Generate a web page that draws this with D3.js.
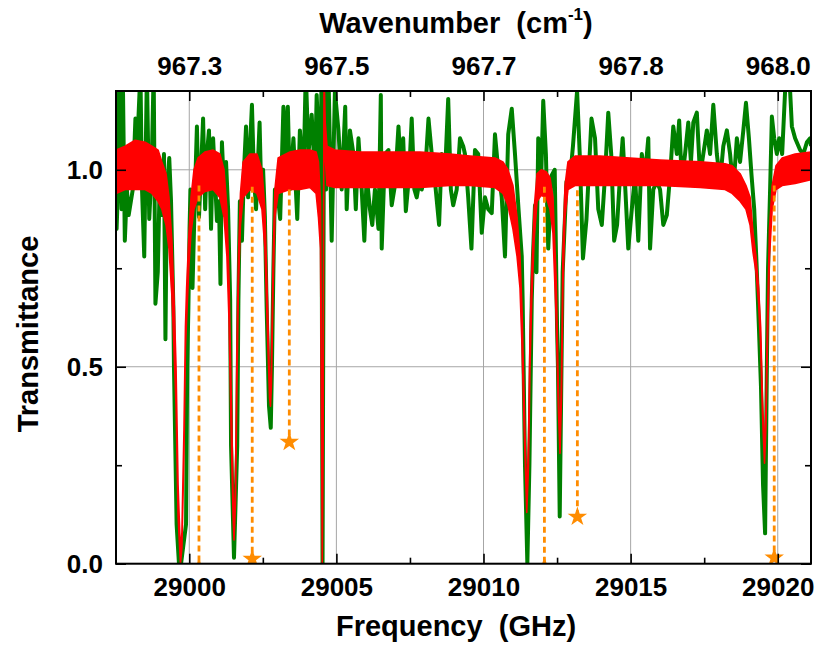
<!DOCTYPE html>
<html>
<head>
<meta charset="utf-8">
<script src="https://cdn.jsdelivr.net/npm/d3@7"></script>
<style>
body { margin: 0; background: #fff; }
svg text { font-family: "Liberation Sans", Arial, sans-serif; font-weight: bold; fill: #000; }
</style>
</head>
<body>
<div id="chart"></div>
<script>
// axes
var freqRange = [28997.51, 29021.13];
var transRange = [0, 1.2];
var freqTicks = [29000, 29005, 29010, 29015, 29020];
var freqMinor = [29002.5, 29007.5, 29012.5, 29017.5];
var transTicks = [0, 0.5, 1.0];
var transMinor = [0.25, 0.75];
var GHZ_PER_CM = 29.9792458;

// green spectrum: [frequency GHz, transmittance]
var green = [
 [28997.51,1.25],[28997.53,0.85],[28997.60,1.00],[28997.66,1.25],[28997.70,0.90],[28997.74,1.25],[28997.81,0.82],[28997.88,0.95],[28997.94,0.885],[28998.08,0.95],
 [28998.17,1.13],[28998.22,1.04],[28998.34,1.25],[28998.39,0.96],[28998.47,0.78],[28998.56,1.25],[28998.64,0.875],[28998.72,1.00],[28998.79,1.25],[28998.85,0.66],
 [28998.93,0.74],[28999.00,0.985],[28999.07,0.885],[28999.14,1.04],[28999.19,0.57],[28999.24,0.95],[28999.32,1.03],[28999.38,0.92],[28999.43,0.75],[28999.46,0.65],
 [28999.48,0.50],[28999.57,0.10],[28999.65,0.00],[28999.72,0.00],[28999.89,0.10],[28999.93,0.50],[28999.97,0.65],[29000.01,0.85],[29000.04,0.95],[29000.11,0.70],
 [29000.20,0.96],[29000.26,1.11],[29000.33,0.88],[29000.40,1.00],[29000.47,1.13],[29000.54,0.90],[29000.60,1.04],[29000.67,1.10],[29000.74,0.85],[29000.81,1.08],
 [29000.88,0.97],[29000.94,0.87],[29001.01,0.92],[29001.06,0.71],[29001.11,1.07],[29001.18,0.95],[29001.25,1.02],[29001.32,0.90],[29001.39,0.67],[29001.42,0.30],
 [29001.52,0.015],[29001.63,0.30],[29001.67,0.67],[29001.72,0.92],[29001.79,0.82],[29001.86,1.00],[29001.93,1.11],[29002.00,0.93],[29002.06,1.05],[29002.13,1.165],
 [29002.20,0.98],[29002.27,0.90],[29002.34,1.03],[29002.39,1.12],[29002.44,0.96],[29002.51,1.00],[29002.57,0.88],[29002.63,0.65],[29002.71,0.40],[29002.77,0.345],
 [29002.81,0.50],[29002.86,0.75],[29002.91,0.95],[29002.99,0.95],[29003.09,0.875],[29003.20,1.16],[29003.25,1.04],[29003.35,1.16],[29003.42,0.95],[29003.54,1.08],
 [29003.67,0.875],[29003.76,1.10],[29003.88,0.97],[29003.96,1.25],[29004.05,1.04],[29004.16,1.14],[29004.27,0.985],[29004.33,1.19],[29004.39,1.08],[29004.44,0.90],
 [29004.49,1.20],[29004.53,0.00],[29004.58,1.25],[29004.65,0.95],[29004.73,1.25],[29004.84,0.82],[29004.95,1.20],[29005.07,1.10],[29005.18,0.95],[29005.30,1.16],
 [29005.35,0.90],[29005.46,1.10],[29005.58,1.04],[29005.66,0.90],[29005.75,1.08],[29005.86,0.95],[29005.95,0.82],[29006.03,0.985],[29006.14,0.90],[29006.22,0.86],
 [29006.31,0.95],[29006.43,0.85],[29006.51,1.19],[29006.54,0.80],[29006.65,1.04],[29006.77,1.05],[29006.88,0.91],[29006.99,0.96],[29007.11,1.11],[29007.20,0.985],
 [29007.27,1.08],[29007.36,0.895],[29007.47,0.985],[29007.56,1.13],[29007.65,0.95],[29007.73,0.93],[29007.82,0.97],[29007.90,0.95],[29008.01,0.985],[29008.13,1.13],
 [29008.24,1.04],[29008.35,0.97],[29008.49,0.86],[29008.58,1.04],[29008.69,0.985],[29008.80,1.18],[29008.89,0.95],[29008.97,0.91],[29009.09,0.95],[29009.20,1.08],
 [29009.31,1.06],[29009.37,1.04],[29009.48,0.93],[29009.59,0.80],[29009.71,1.05],[29009.82,1.04],[29009.94,0.84],[29010.05,0.93],[29010.16,0.90],[29010.28,0.89],
 [29010.39,1.09],[29010.50,1.00],[29010.62,0.93],[29010.73,0.78],[29010.84,1.09],[29010.96,1.155],[29011.07,1.04],[29011.19,0.90],[29011.30,0.78],[29011.33,0.67],
 [29011.41,0.25],[29011.49,0.00],[29011.56,0.25],[29011.64,0.67],[29011.68,0.78],[29011.75,0.91],[29011.80,0.74],[29011.86,1.08],[29011.95,0.95],[29012.03,1.175],
 [29012.12,1.04],[29012.20,0.80],[29012.31,0.985],[29012.42,1.00],[29012.50,0.60],[29012.53,0.50],[29012.59,0.12],[29012.65,0.50],[29012.69,0.74],[29012.82,0.97],
 [29012.93,0.97],[29013.04,1.06],[29013.18,1.20],[29013.27,1.04],[29013.38,0.775],[29013.50,0.875],[29013.67,1.13],[29013.79,1.08],[29013.90,0.90],[29014.02,0.86],
 [29014.13,0.985],[29014.24,1.145],[29014.34,1.04],[29014.44,0.82],[29014.54,0.86],[29014.64,0.985],[29014.73,1.08],[29014.82,0.95],[29014.92,0.80],[29015.04,0.90],
 [29015.15,0.985],[29015.26,0.82],[29015.38,1.04],[29015.49,0.985],[29015.60,1.08],[29015.66,0.80],[29015.77,0.95],[29015.89,0.97],[29016.00,0.95],[29016.11,0.86],
 [29016.23,0.885],[29016.34,0.985],[29016.45,1.11],[29016.57,1.04],[29016.65,1.125],[29016.74,0.97],[29016.85,1.04],[29016.96,1.12],[29017.05,1.02],[29017.13,1.12],
 [29017.25,1.145],[29017.36,0.985],[29017.47,1.04],[29017.59,1.10],[29017.70,1.04],[29017.81,1.165],[29017.93,1.04],[29018.04,0.97],[29018.15,1.06],[29018.27,1.10],
 [29018.38,1.04],[29018.49,0.95],[29018.61,1.08],[29018.72,1.02],[29018.83,1.10],[29018.92,1.17],[29019.02,1.08],[29019.11,0.985],[29019.20,0.90],[29019.28,0.76],
 [29019.36,0.60],[29019.43,0.45],[29019.50,0.20],[29019.57,0.077],[29019.63,0.50],[29019.67,0.75],[29019.74,0.95],[29019.80,1.135],[29019.88,1.08],[29019.97,1.04],
 [29020.05,1.08],[29020.15,1.04],[29020.25,1.20],[29020.33,1.25],[29020.42,1.20],[29020.48,1.11],[29020.59,1.08],[29020.76,1.05],[29020.87,1.04],[29020.99,1.07],
 [29021.10,1.08],[29021.13,1.06]
];

// red spectrum, noise band: [frequency GHz, low, high]
var red = [
 [28997.51,0.94,1.05],[28997.82,0.95,1.06],[28998.16,0.95,1.075],[28998.50,0.95,1.07],[28998.73,0.94,1.06],[28998.94,0.92,1.05],[28999.07,0.90,1.02],[28999.21,0.86,0.99],
 [28999.31,0.80,0.93],[28999.41,0.68,0.82],[28999.48,0.55,0.68],[28999.55,0.40,0.50],[28999.62,0.12,0.20],[28999.70,0.00,0.03],[28999.75,0.04,0.08],[28999.82,0.28,0.34],
 [28999.87,0.55,0.60],[28999.91,0.62,0.70],[28999.99,0.76,0.84],[29000.06,0.84,0.93],[29000.16,0.90,1.00],[29000.30,0.93,1.03],[29000.53,0.945,1.045],[29000.81,0.95,1.05],
 [29001.04,0.93,1.04],[29001.18,0.88,1.00],[29001.28,0.78,0.90],[29001.35,0.62,0.72],[29001.42,0.35,0.45],[29001.49,0.12,0.18],[29001.52,0.06,0.08],[29001.57,0.15,0.20],
 [29001.62,0.45,0.55],[29001.67,0.70,0.78],[29001.74,0.86,0.94],[29001.83,0.93,1.02],[29002.06,0.95,1.04],[29002.30,0.94,1.04],[29002.47,0.90,1.00],[29002.57,0.80,0.90],
 [29002.66,0.58,0.66],[29002.73,0.42,0.46],[29002.76,0.40,0.42],[29002.79,0.45,0.50],[29002.85,0.70,0.78],[29002.91,0.88,0.95],[29003.02,0.94,1.03],[29003.42,0.95,1.045],
 [29003.76,0.95,1.05],[29004.10,0.955,1.05],[29004.31,0.94,1.045],[29004.39,0.88,1.02],[29004.46,0.80,0.92],[29004.49,0.40,0.60],[29004.52,0.00,0.05],[29004.55,0.30,0.50],
 [29004.58,1.25,1.25],[29004.62,1.03,1.12],[29004.68,0.96,1.06],[29004.95,0.955,1.05],[29005.80,0.955,1.045],[29006.82,0.955,1.045],[29007.84,0.955,1.045],[29008.86,0.96,1.04],
 [29009.54,0.96,1.035],[29010.39,0.955,1.03],[29010.66,0.94,1.02],[29010.83,0.91,1.00],[29011.00,0.85,0.96],[29011.14,0.78,0.88],[29011.24,0.70,0.78],[29011.31,0.55,0.64],
 [29011.38,0.35,0.42],[29011.47,0.13,0.15],[29011.53,0.25,0.32],[29011.58,0.50,0.58],[29011.64,0.67,0.74],[29011.72,0.82,0.90],[29011.82,0.92,0.99],[29011.96,0.935,1.00],
 [29012.13,0.93,0.995],[29012.26,0.90,0.98],[29012.36,0.84,0.93],[29012.47,0.62,0.72],[29012.54,0.40,0.46],[29012.60,0.28,0.30],[29012.65,0.42,0.48],[29012.70,0.70,0.80],
 [29012.77,0.88,0.96],[29012.87,0.95,1.02],[29013.11,0.96,1.035],[29013.96,0.96,1.035],[29014.98,0.96,1.03],[29016.00,0.96,1.025],[29017.36,0.955,1.02],[29018.21,0.95,1.015],
 [29018.45,0.94,1.01],[29018.72,0.92,0.99],[29018.92,0.90,0.96],[29019.06,0.86,0.93],[29019.16,0.79,0.84],[29019.26,0.74,0.78],[29019.35,0.66,0.70],[29019.42,0.55,0.60],
 [29019.48,0.38,0.42],[29019.55,0.255,0.28],[29019.60,0.35,0.40],[29019.65,0.55,0.62],[29019.72,0.78,0.85],[29019.81,0.90,0.96],[29019.94,0.95,1.01],[29020.15,0.96,1.03],
 [29020.59,0.965,1.04],[29021.13,0.975,1.045]
];

// predicted lines (stars) and the top of their dashed drop lines
var starFreq = [29000.33, 29002.14, 29003.40, 29012.07, 29013.19, 29019.88];
var starTrans = [-0.01, 0.012, 0.309, -0.008, 0.119, 0.015];
var dashTop = [0.96, 0.957, 0.95, 0.957, 0.948, 0.96];

var W = 830, H = 646;
var margin = {top: 91, right: 19, bottom: 82.3, left: 116};
var plotW = W - margin.left - margin.right;
var plotH = H - margin.top - margin.bottom;

var x = d3.scaleLinear().domain(freqRange).range([0, plotW]);
var y = d3.scaleLinear().domain(transRange).range([plotH, 0]);

var svg = d3.select("#chart").append("svg")
  .attr("width", W)
  .attr("height", H);

svg.append("defs").append("clipPath")
  .attr("id", "plotclip")
  .append("rect")
  .attr("width", plotW)
  .attr("height", plotH);

var g = svg.append("g")
  .attr("transform", "translate(" + margin.left + "," + margin.top + ")");

// grid
g.selectAll(".vgrid").data(freqTicks).enter().append("line")
  .attr("class", "vgrid")
  .attr("x1", d => x(d)).attr("x2", d => x(d))
  .attr("y1", 0).attr("y2", plotH)
  .attr("stroke", "#a6a6a6").attr("stroke-width", 1);

g.selectAll(".hgrid").data(transTicks).enter().append("line")
  .attr("class", "hgrid")
  .attr("x1", 0).attr("x2", plotW)
  .attr("y1", d => y(d)).attr("y2", d => y(d))
  .attr("stroke", "#a6a6a6").attr("stroke-width", 1);

var plot = g.append("g").attr("clip-path", "url(#plotclip)");

var greenLine = d3.line()
  .x(d => x(d[0]))
  .y(d => y(d[1]));

plot.append("path")
  .datum(green)
  .attr("d", greenLine)
  .attr("fill", "none")
  .attr("stroke", "#008000")
  .attr("stroke-width", 4)
  .attr("stroke-linejoin", "round");

var redArea = d3.area()
  .x(d => x(d[0]))
  .y0(d => y(d[1]))
  .y1(d => y(d[2]));

plot.append("path")
  .datum(red)
  .attr("d", redArea)
  .attr("fill", "#ff0000")
  .attr("stroke", "#ff0000")
  .attr("stroke-width", 1.6)
  .attr("stroke-linejoin", "round");

// dashed drop lines + stars
plot.selectAll(".drop").data(starFreq).enter().append("line")
  .attr("class", "drop")
  .attr("x1", d => x(d)).attr("x2", d => x(d))
  .attr("y1", (d, i) => y(dashTop[i]))
  .attr("y2", (d, i) => y(starTrans[i]))
  .attr("stroke", "#ff8c00")
  .attr("stroke-width", 2.8)
  .attr("stroke-dasharray", "6,4");

plot.selectAll(".star").data(starFreq).enter().append("path")
  .attr("class", "star")
  .attr("d", d3.symbol(d3.symbolStar, 118))
  .attr("transform", (d, i) => "translate(" + x(d) + "," + y(starTrans[i]) + ")")
  .attr("fill", "#ff8c00");

// axes
function styleAxis(sel, size) {
  sel.select(".domain").remove();
  sel.selectAll("line").attr("stroke", "#000").attr("stroke-width", 1.6);
  sel.selectAll("text")
    .attr("font-family", "Liberation Sans, Arial, sans-serif")
    .attr("font-size", size + "px")
    .attr("font-weight", "bold")
    .attr("fill", "#000");
}

g.append("g").attr("transform", "translate(0," + plotH + ")")
  .call(d3.axisBottom(x).tickValues(freqTicks).tickSize(-10).tickPadding(14).tickFormat(d3.format("d")))
  .call(styleAxis, 26);
g.append("g").attr("transform", "translate(0," + plotH + ")")
  .call(d3.axisBottom(x).tickValues(freqMinor).tickSize(-6).tickFormat(""))
  .call(styleAxis, 26);

g.append("g")
  .call(d3.axisTop(x).tickValues(freqTicks).tickSize(-10).tickPadding(16)
    .tickFormat(d => (d / GHZ_PER_CM).toFixed(1)))
  .call(styleAxis, 26);
g.append("g")
  .call(d3.axisTop(x).tickValues(freqMinor).tickSize(-6).tickFormat(""))
  .call(styleAxis, 26);

g.append("g")
  .call(d3.axisLeft(y).tickValues(transTicks).tickSize(-10).tickPadding(13).tickFormat(d3.format(".1f")))
  .call(styleAxis, 26);
g.append("g")
  .call(d3.axisLeft(y).tickValues(transMinor).tickSize(-6).tickFormat(""))
  .call(styleAxis, 26);

g.append("g").attr("transform", "translate(" + plotW + ",0)")
  .call(d3.axisRight(y).tickValues(transTicks).tickSize(-10).tickFormat(""))
  .call(styleAxis, 26);
g.append("g").attr("transform", "translate(" + plotW + ",0)")
  .call(d3.axisRight(y).tickValues(transMinor).tickSize(-6).tickFormat(""))
  .call(styleAxis, 26);

// frame
g.append("rect")
  .attr("width", plotW)
  .attr("height", plotH)
  .attr("fill", "none")
  .attr("stroke", "#000")
  .attr("stroke-width", 2);

// titles
g.append("text")
  .attr("x", 340)
  .attr("y", plotH + 72)
  .attr("text-anchor", "middle")
  .attr("font-size", "29px")
  .style("white-space", "pre")
  .text("Frequency  (GHz)");

var topTitle = g.append("text")
  .attr("x", 340)
  .attr("y", -58)
  .attr("text-anchor", "middle")
  .attr("font-size", "29px")
  .style("white-space", "pre");
topTitle.append("tspan").text("Wavenumber  (cm");
topTitle.append("tspan").attr("font-size", "17px").attr("dy", -13).text("-1");
topTitle.append("tspan").attr("dy", 13).text(")");

g.append("text")
  .attr("transform", "translate(-78," + (334 - margin.top) + ") rotate(-90)")
  .attr("text-anchor", "middle")
  .attr("font-size", "29px")
  .text("Transmittance");
</script>
</body>
</html>
